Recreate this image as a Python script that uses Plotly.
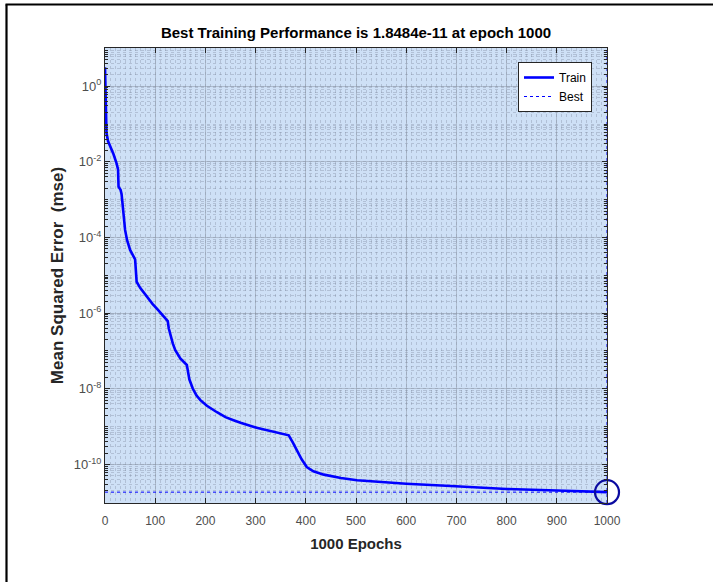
import plotly.graph_objects as go

# ---- data ----
epochs = [0, 1, 3, 6, 12, 17, 23, 26, 27, 31, 33, 36, 40, 44, 50, 60, 62, 63, 70, 83, 95, 106,
          125, 127, 130, 135, 140, 150, 163, 165, 168, 175, 182, 190, 203, 223, 240, 256, 270,
          302, 335, 366, 374, 382, 392, 402, 415, 436, 470, 502, 550, 600, 689, 800, 900, 1000]
log_mse = [0.5, -0.3, -1.24, -1.45, -1.62, -1.8, -2.04, -2.2, -2.66, -2.74, -2.85, -3.3, -3.8,
           -4.07, -4.33, -4.58, -4.9, -5.17, -5.33, -5.57, -5.76, -5.92, -6.21, -6.4, -6.58,
           -6.8, -6.98, -7.2, -7.37, -7.55, -7.75, -8.0, -8.17, -8.3, -8.45, -8.62, -8.75,
           -8.83, -8.9, -9.03, -9.13, -9.23, -9.42, -9.63, -9.87, -10.07, -10.18, -10.27,
           -10.36, -10.42, -10.47, -10.51, -10.57, -10.65, -10.69, -10.7332]
mse = [10 ** v for v in log_mse]

best_perf = 1.8484e-11
best_epoch = 1000

x_ticks = [0, 100, 200, 300, 400, 500, 600, 700, 800, 900, 1000]
y_tick_vals = [1, 1e-2, 1e-4, 1e-6, 1e-8, 1e-10]
y_tick_text = ["10<sup>0</sup>", "10<sup>-2</sup>", "10<sup>-4</sup>", "10<sup>-6</sup>",
               "10<sup>-8</sup>", "10<sup>-10</sup>"]
y_range_log = [-11.02, 1.01]

# ---- layout constants ----
W, H = 713, 582
L, R, T, B = 105, 106, 48, 79
pw, ph = W - L - R, H - T - B

FONT = "Liberation Sans, Arial, sans-serif"
BG = "#CEE0F6"
BLUE = "#0000FF"

fig = go.Figure()
fig.add_trace(go.Scatter(x=epochs, y=mse, mode="lines", name="Train",
                         line=dict(color=BLUE, width=2.6)))
fig.add_trace(go.Scatter(x=[0, best_epoch], y=[best_perf, best_perf], mode="lines", name="Best",
                         line=dict(color=BLUE, width=1, dash="dot")))
fig.add_trace(go.Scatter(x=[best_epoch, best_epoch],
                         y=[10 ** y_range_log[0], 10 ** y_range_log[1]], mode="lines",
                         showlegend=False, line=dict(color=BLUE, width=1, dash="dot"),
                         cliponaxis=False))
fig.add_trace(go.Scatter(x=[best_epoch], y=[best_perf], mode="markers", showlegend=False,
                         cliponaxis=False,
                         marker=dict(symbol="circle-open", size=24, color="#0A0AA0",
                                     line=dict(width=2.2, color="#0A0AA0"))))

grid_major = "rgba(140,150,165,0.5)"
grid_minor = "rgba(110,120,140,0.3)"

fig.update_xaxes(range=[0, 1000], tickvals=x_ticks, ticks="inside", ticklen=5,
                 tickcolor="#262626", linecolor="#262626", linewidth=1, mirror="ticks",
                 showline=True, showgrid=True, gridcolor=grid_major, gridwidth=1,
                 zeroline=False, ticklabelstandoff=7,
                 tickfont=dict(family=FONT, size=12, color="#4D4D4D"),
                 minor=dict(dtick=10, showgrid=True, griddash="dot", gridcolor=grid_minor,
                            gridwidth=1, ticks=""),
                 title=dict(text="<b>1000 Epochs</b>", standoff=11,
                            font=dict(family=FONT, size=15, color="#262626")))
fig.update_yaxes(type="log", range=y_range_log, tickvals=y_tick_vals, ticktext=y_tick_text,
                 ticks="inside", ticklen=5, tickcolor="#262626", linecolor="#262626",
                 linewidth=1, mirror="ticks", showline=True, showgrid=True,
                 gridcolor=grid_major, gridwidth=1, zeroline=False,
                 tickfont=dict(family=FONT, size=13, color="#4D4D4D"),
                 minor=dict(dtick="D1", showgrid=True, griddash="dot", gridcolor=grid_minor,
                            gridwidth=1, ticks="inside", ticklen=3, tickcolor="#262626"),
                 title=dict(text="<b>Mean Squared Error  (mse)</b>", standoff=5,
                            font=dict(family=FONT, size=17, color="#262626")))

# outer frame lines (left and top) visible in the reference
def px_x(p):
    return (p - L) / pw

def px_y(p):
    return (H - B - p) / ph

fig.add_shape(type="line", xref="paper", yref="paper", x0=px_x(6.5), x1=px_x(6.5),
              y0=px_y(H + 2), y1=px_y(4.5), line=dict(color="black", width=2.2))
fig.add_shape(type="line", xref="paper", yref="paper", x0=px_x(5.5), x1=px_x(W + 2),
              y0=px_y(4.5), y1=px_y(4.5), line=dict(color="black", width=2.2))

fig.update_layout(
    width=W, height=H, margin=dict(l=L, r=R, t=T, b=B),
    paper_bgcolor="white", plot_bgcolor=BG,
    title=dict(text="<b>Best Training Performance is 1.8484e-11 at epoch 1000</b>",
               x=(L + pw / 2) / W, xanchor="center", y=1 - 33 / H, yanchor="middle",
               font=dict(family=FONT, size=15, color="#000000")),
    legend=dict(x=px_x(592), y=px_y(62), xanchor="right", yanchor="top",
                bgcolor="white", bordercolor="#262626", borderwidth=1,
                font=dict(family=FONT, size=12, color="#000000"),
                itemwidth=30, tracegroupgap=0),
    showlegend=True,
)

fig.write_html("out.html")
